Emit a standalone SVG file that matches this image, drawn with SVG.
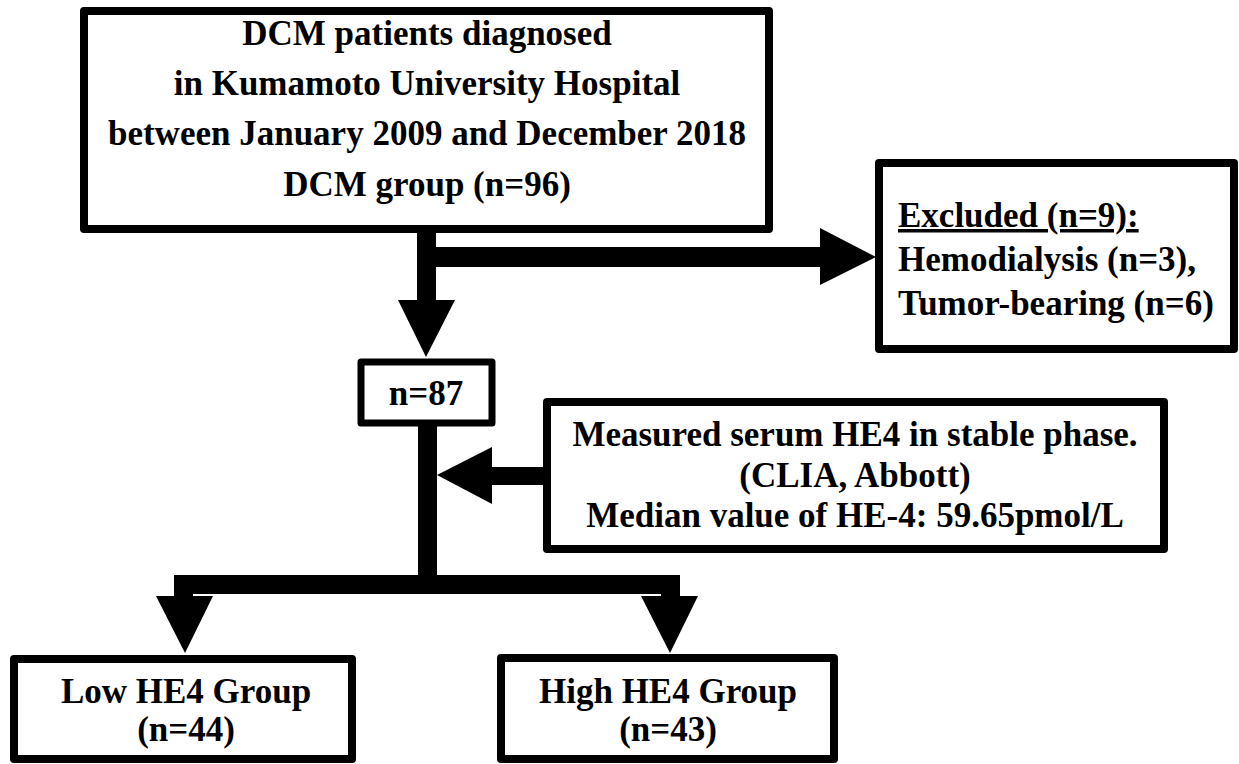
<svg xmlns="http://www.w3.org/2000/svg" width="1239" height="764" viewBox="0 0 1239 764">
<style>
.box{fill:#fff;stroke:#000;stroke-width:8;stroke-linejoin:round}
.t{font-family:"Liberation Serif","Times New Roman",serif;font-weight:bold;font-size:35px;fill:#000}
.c{text-anchor:middle}
.k{fill:#000;stroke:none}
</style>
<rect width="1239" height="764" fill="#fff"/>
<g id="connectors">
<rect class="k" x="417" y="231" width="19" height="70"/>
<polygon class="k" points="398,300 455,300 426,357"/>
<rect class="k" x="434" y="247" width="387" height="20"/>
<polygon class="k" points="820,228 820,285 876,257"/>
<rect class="k" x="418" y="425" width="19" height="169"/>
<rect class="k" x="491" y="467" width="54" height="18"/>
<polygon class="k" points="492,447 492,504 437,475"/>
<rect class="k" x="174" y="575" width="506" height="19"/>
<rect class="k" x="174" y="575" width="19" height="23"/>
<polygon class="k" points="156,596 213,596 185,653"/>
<rect class="k" x="661" y="575" width="19" height="23"/>
<polygon class="k" points="641,596 698,596 670,653"/>
</g>
<g id="dcm">
<rect class="box" x="84" y="11" width="685" height="218"/>
<text class="t c" x="427" y="45">DCM patients diagnosed</text>
<text class="t c" x="427" y="95">in Kumamoto University Hospital</text>
<text class="t c" x="427" y="145">between January 2009 and December 2018</text>
<text class="t c" x="427" y="196">DCM group (n=96)</text>
</g>
<g id="excluded">
<rect class="box" x="879" y="163" width="355" height="186"/>
<text class="t" x="898" y="227" text-decoration="underline">Excluded (n=9):</text>
<text class="t" x="898" y="271">Hemodialysis (n=3),</text>
<text class="t" x="898" y="315">Tumor-bearing (n=6)</text>
</g>
<g id="n87">
<rect class="box" x="361" y="362" width="131" height="61" style="stroke-width:7"/>
<text class="t c" x="426" y="405">n=87</text>
</g>
<g id="measured">
<rect class="box" x="547" y="402" width="617" height="147"/>
<text class="t c" x="855" y="446">Measured serum HE4 in stable phase.</text>
<text class="t c" x="855" y="487">(CLIA, Abbott)</text>
<text class="t c" x="855" y="527">Median value of HE-4: 59.65pmol/L</text>
</g>
<g id="low">
<rect class="box" x="14" y="659" width="338" height="100"/>
<text class="t c" x="186" y="703">Low HE4 Group</text>
<text class="t c" x="186" y="741">(n=44)</text>
</g>
<g id="high">
<rect class="box" x="501" y="658" width="333" height="101"/>
<text class="t c" x="668" y="703">High HE4 Group</text>
<text class="t c" x="668" y="741">(n=43)</text>
</g>
</svg>
